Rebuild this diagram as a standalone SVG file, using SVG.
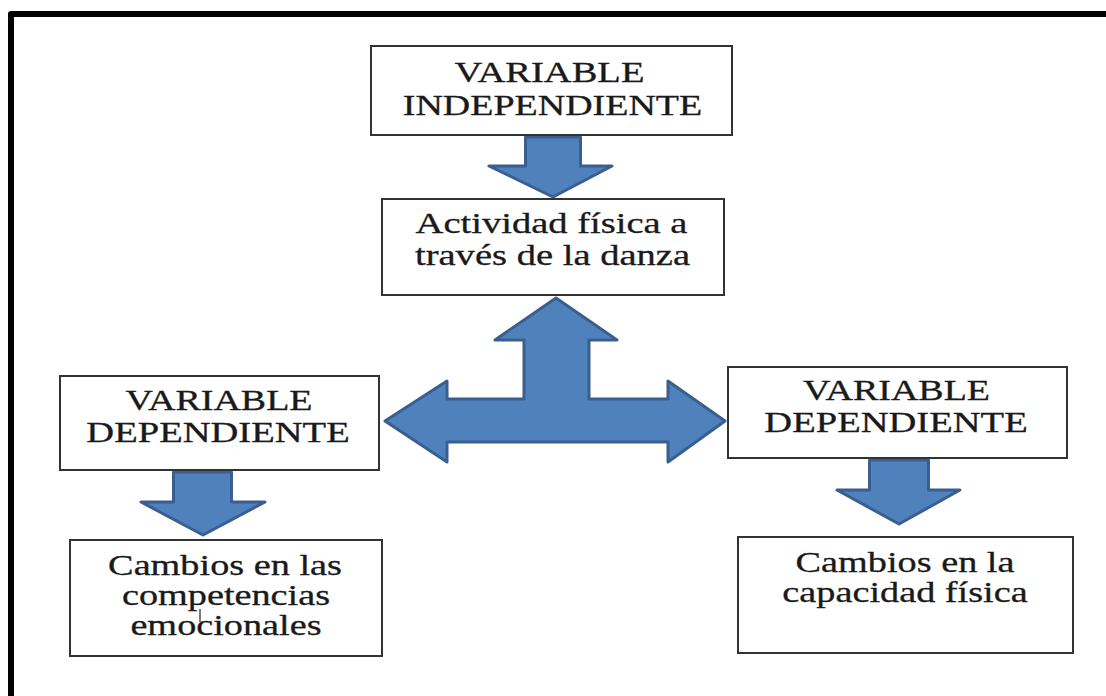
<svg xmlns="http://www.w3.org/2000/svg" width="1106" height="696" viewBox="0 0 1106 696">
<style>
.box{fill:#fff;stroke:#333;stroke-width:2}
.t{font-family:'Liberation Serif','Times New Roman',serif;font-size:29px;fill:#1a1a1a;stroke:#1a1a1a;stroke-width:0.3;text-anchor:middle}
.arr{fill:#4f81bd;stroke:#3a5f8e;stroke-width:3;stroke-linejoin:round}
</style>
<rect x="0" y="0" width="1106" height="696" fill="#fff"/>
<path d="M11,700 L11,14 L1110,14" fill="none" stroke="#000" stroke-width="6" stroke-linejoin="round"/>
<g id="connectors">
<path class="arr" d="M525.5,137 L580.5,137 L580.5,166 L612,166 L553,197 L489,166 L525.5,166 Z"/>
<path class="arr" d="M556,298 L617,340 L589,340 L589,399 L668,399 L668,381 L725,421 L668,462 L668,442 L447,442 L447,462 L385,421 L447,381 L447,399 L524,399 L524,340 L495,340 Z"/>
<path class="arr" d="M173.5,472 L231.5,472 L231.5,502 L265,502 L203,535 L141,502 L173.5,502 Z"/>
<path class="arr" d="M869.5,460 L928.5,460 L928.5,490 L960,490 L899,524 L837,490 L869.5,490 Z"/>
</g>
<g id="n-indep">
<rect class="box" x="371" y="46" width="361" height="89"/>
<text class="t" transform="translate(549.5,82) scale(1.33,1)">VARIABLE</text>
<text class="t" transform="translate(552.5,115) scale(1.31,1)">INDEPENDIENTE</text>
</g>
<g id="n-actividad">
<rect class="box" x="382" y="199" width="342" height="96"/>
<text class="t" transform="translate(551.5,233) scale(1.33,1)">Actividad física a</text>
<text class="t" transform="translate(552.5,265) scale(1.33,1)">través de la danza</text>
</g>
<g id="n-dep-left">
<rect class="box" x="60" y="376" width="319" height="94"/>
<text class="t" transform="translate(219,410) scale(1.31,1)">VARIABLE</text>
<text class="t" transform="translate(218,442) scale(1.33,1)">DEPENDIENTE</text>
</g>
<g id="n-emocionales">
<rect class="box" x="70" y="540" width="312" height="116"/>
<text class="t" transform="translate(225,575) scale(1.32,1)">Cambios en las</text>
<text class="t" transform="translate(226,605) scale(1.32,1)">competencias</text>
<text class="t" transform="translate(226,635) scale(1.32,1)">emocionales</text>
<path d="M200,609 L200,622" stroke="#222" stroke-width="1.2" fill="none"/>
</g>
<g id="n-dep-right">
<rect class="box" x="728" y="367" width="339" height="91"/>
<text class="t" transform="translate(896.5,400) scale(1.31,1)">VARIABLE</text>
<text class="t" transform="translate(896,432) scale(1.33,1)">DEPENDIENTE</text>
</g>
<g id="n-fisica">
<rect class="box" x="738" y="537" width="335" height="116"/>
<text class="t" transform="translate(905,572) scale(1.32,1)">Cambios en la</text>
<text class="t" transform="translate(905,602) scale(1.32,1)">capacidad física</text>
</g>
</svg>
